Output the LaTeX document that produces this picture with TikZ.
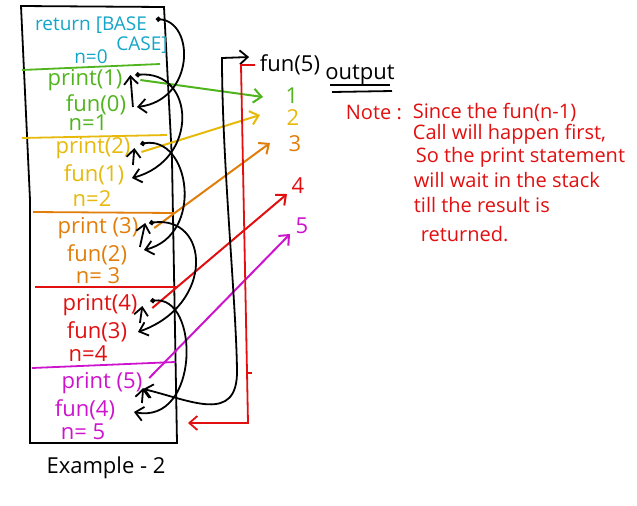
\documentclass[tikz,border=0pt]{standalone}
\usepackage{fontspec}
\setmainfont{Open Sans}
\usetikzlibrary{arrows.meta,calc}
\usetikzlibrary{positioning}
\definecolor{cbase}{RGB}{20,165,200}
\definecolor{cverde}{RGB}{80,180,30}
\definecolor{camarelo}{RGB}{230,185,10}
\definecolor{claranja}{RGB}{225,125,10}
\definecolor{cvermelho}{RGB}{225,15,15}
\definecolor{cmagenta}{RGB}{205,20,205}

\begin{document}
\begin{tikzpicture}[
    x=0.5pt, y=-0.5pt,
    >={Straight Barb[length=4pt,width=7pt]},
    line width=0.9pt,
    font=\fontsize{11}{13}\selectfont,
    rotulo/.style={inner sep=2pt},
    base/.style={text=cbase, inner sep=0pt, font=\fontsize{9.5}{11}\selectfont},
    numero/.style={inner sep=1pt, font=\fontsize{11}{13}\selectfont},
    nota/.style={anchor=west, text=cvermelho, inner sep=0pt,
                 font=\fontsize{10}{12}\selectfont},
    seta/.style={->, line width=1pt},
    volta/.style={{Circle[length=2.5pt]}->, line width=0.9pt}
  ]
  \useasboundingbox (0,0) rectangle (637,505);

  % ── pilha ───────────────────────────────────────────────────────
  \draw (21,6) -- (164,7) -- (172,160) -- (177,443) -- (30,443)
        -- (30,200) -- cycle;

  \draw[cverde]    (22,70)  -- (160,64);
  \draw[camarelo]  (22,138) -- (167,135);
  \draw[claranja]  (33,212) -- (175,213);
  \draw[cvermelho] (35,287) -- (177,287);
  \draw[cmagenta]  (32,368) -- (175,362);

  % ── quadros da pilha ────────────────────────────────────────────
  \node[base] (ret)  at (91,25)  {return [BASE};
  \node[base] (caso) at (142,45) {CASE]};
  \node[base] (n0)   at (91,57)  {n=0};

  \node[rotulo, text=cverde] (p1) at (85,80)  {print(1)};
  \node[rotulo, text=cverde] (f0) at (96,105) {fun(0)};
  \node[rotulo, text=cverde] (n1) at (88,123) {n=1};

  \node[rotulo, text=camarelo] (p2) at (93,148) {print(2)};
  \node[rotulo, text=camarelo] (f1) at (94,175) {fun(1)};
  \node[rotulo, text=camarelo] (n2) at (92,199) {n=2};

  \node[rotulo, text=claranja] (p3) at (98,228) {print (3)};
  \node[rotulo, text=claranja] (f2) at (97,255) {fun(2)};
  \node[rotulo, text=claranja] (n3) at (98,276) {n= 3};

  \node[rotulo, text=cvermelho] (p4) at (100,305) {print(4)};
  \node[rotulo, text=cvermelho] (f3) at (97,332)  {fun(3)};
  \node[rotulo, text=cvermelho] (n4) at (88,354)  {n=4};

  \node[rotulo, text=cmagenta] (p5) at (102,383) {print (5)};
  \node[rotulo, text=cmagenta] (f4) at (85,410)  {fun(4)};
  \node[rotulo, text=cmagenta] (n5) at (83,432)  {n= 5};

  \node[rotulo] (ex) at (106,468) {Example - 2};

  % ── saida ───────────────────────────────────────────────────────
  \node[rotulo] (f5) at (290,65) {fun(5)};

  \node[numero, text=cverde]    (o1) at (292,96)  {1};
  \node[numero, text=camarelo]  (o2) at (293,118) {2};
  \node[numero, text=claranja]  (o3) at (295,144) {3};
  \node[numero, text=cvermelho] (o4) at (298,186) {4};
  \node[numero, text=cmagenta]  (o5) at (302,226) {5};

  \node[rotulo, inner sep=0pt] (saida) at (360,75) {output};
  \draw (330,85) -- (390,85);
  \draw (332,92) -- (392,91);

  \node[nota] (nt) at (345,112) {Note :};
  \node[nota] (l1) at (412,112) {Since the fun(n-1)};
  \node[nota] (l2) at (412,134) {Call will happen first,};
  \node[nota] (l3) at (415,157) {So the print statement};
  \node[nota] (l4) at (413,180) {will wait in the stack};
  \node[nota] (l5) at (413,205) {till the result is};
  \node[nota] (l6) at (420,234) {returned.};

  % ── print -> saida ──────────────────────────────────────────────
  \draw[seta, cverde]    ([shift={(13,0)}]p1.east)  -- ([shift={(-29,1)}]o1.center);
  \draw[seta, camarelo]  ([shift={(6,4)}]p2.east)   -- ([shift={(-33,-3)}]o2.center);
  \draw[seta, claranja]  ([shift={(11,0)}]p3.east)  -- ([shift={(-25,-1)}]o3.center);
  \draw[seta, cvermelho] ([shift={(10,3)}]p4.east)  -- ([shift={(-11,8)}]o4.center);
  \draw[seta, cmagenta]  ([shift={(2,-5)}]p5.east)  -- ([shift={(-12,8)}]o5.center);

  % ── retornos ────────────────────────────────────────────────────
  \draw[volta] ([shift={(8,-6)}]ret.east)
    .. controls (195,22) and (195,100) .. ([shift={(6,2)}]f0.east);
  \draw[volta] ([shift={(8,-5)}]p1.east)
    .. controls (195,70) and (200,160) .. ([shift={(3,3)}]f1.east);
  \draw[volta] ([shift={(5,-4)}]p2.east)
    .. controls (190,135) and (205,235) .. ([shift={(12,-5)}]f2.east);
  \draw[volta] ([shift={(6,-5)}]p3.east)
    .. controls (210,215) and (215,305) .. ([shift={(6,0)}]f3.east);
  \draw[volta] ([shift={(8,-4)}]p4.east)
    .. controls (200,295) and (200,425) .. ([shift={(14,2)}]f4.east);

  % ── fun(n-1) -> print(n) ────────────────────────────────────────
  \draw[->] ([shift={(2,2)}]f0.east)   -- ([shift={(3,-5)}]p1.east);
  \draw[->] ([shift={(4,-10)}]f1.east) -- ([shift={(-1,0)}]p2.east);
  \draw[->] ([shift={(8,-8)}]f2.east)  -- ([shift={(2,-5)}]p3.east);
  \draw[->] ([shift={(8,-9)}]f3.east)  -- ([shift={(0,1)}]p4.east);
  \draw[->] ([shift={(22,-7)}]f4.east) -- ([shift={(-4,5)}]p5.east);

  % ── chamada fun(5) e retorno final ──────────────────────────────
  \draw[<->] ([shift={(-4,6)}]p5.east)
    .. controls (190,400) and (238,425) .. (237,370)
    .. controls (236,300) and (222,160) .. (222,58)
    -- ([shift={(-6,-8)}]f5.west);

  \coordinate (fundo) at (188,423);
  \draw[->, cvermelho] (f5.west) -- (241,65) -- (248,423) -- (fundo);
  \draw[cvermelho] (248,373) -- (252,373);

\end{tikzpicture}
\end{document}
